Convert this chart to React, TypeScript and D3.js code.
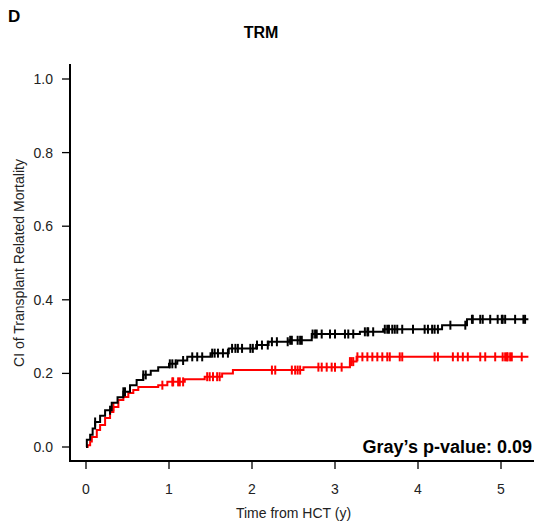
import React from "react";
import * as d3 from "d3";

// step points of the cumulative incidence curves (time in years, CI value)
const blackTimes = [0, 0.01, 0.05, 0.08, 0.11, 0.17, 0.23, 0.31, 0.38, 0.45, 0.53, 0.61, 0.69, 0.78, 0.87, 1.0, 1.1, 1.22, 1.5, 1.72, 2.05, 2.2, 2.45, 2.72, 3.3, 3.58, 4.29, 4.59];
const blackValues = [0, 0.02, 0.033, 0.05, 0.068, 0.085, 0.1, 0.12, 0.135, 0.15, 0.168, 0.182, 0.196, 0.207, 0.217, 0.226, 0.235, 0.245, 0.255, 0.268, 0.277, 0.286, 0.29, 0.307, 0.313, 0.32, 0.331, 0.347];
const blackCensor = [0.11, 0.29, 0.45, 0.47, 0.69, 0.72, 1.01, 1.04, 1.08, 1.17, 1.28, 1.34, 1.4, 1.52, 1.55, 1.59, 1.65, 1.71, 1.76, 1.8, 1.83, 1.88, 1.98, 2.01, 2.06, 2.12, 2.19, 2.24, 2.3, 2.43, 2.46, 2.48, 2.55, 2.58, 2.6, 2.73, 2.76, 2.78, 2.84, 2.94, 3.0, 3.12, 3.16, 3.22, 3.36, 3.39, 3.4, 3.46, 3.6, 3.63, 3.65, 3.69, 3.72, 3.75, 3.81, 3.94, 4.08, 4.12, 4.17, 4.2, 4.24, 4.39, 4.57, 4.65, 4.66, 4.75, 4.78, 4.87, 4.96, 5.01, 5.02, 5.05, 5.17, 5.27, 5.29];

const redTimes = [0, 0.02, 0.05, 0.07, 0.13, 0.17, 0.23, 0.29, 0.33, 0.39, 0.45, 0.51, 0.57, 0.63, 0.87, 0.98, 1.19, 1.43, 1.64, 1.77, 2.62, 3.18, 3.26];
const redValues = [0, 0.005, 0.015, 0.027, 0.046, 0.06, 0.079, 0.095, 0.109, 0.128, 0.136, 0.147, 0.155, 0.163, 0.168, 0.177, 0.184, 0.191, 0.2, 0.209, 0.217, 0.232, 0.245];
const redCensor = [0.33, 0.92, 1.04, 1.05, 1.11, 1.13, 1.17, 1.46, 1.49, 1.53, 1.58, 1.61, 2.24, 2.28, 2.48, 2.52, 2.55, 2.58, 2.8, 2.84, 2.9, 2.96, 3.0, 3.08, 3.18, 3.2, 3.22, 3.27, 3.33, 3.39, 3.45, 3.51, 3.57, 3.63, 3.66, 3.78, 3.81, 4.2, 4.24, 4.42, 4.48, 4.54, 4.6, 4.75, 4.81, 4.93, 5.02, 5.05, 5.07, 5.08, 5.11, 5.13, 5.25];

const endTime = 5.33;
const xTicks = [0, 1, 2, 3, 4, 5];
const yTicks = [0, 0.2, 0.4, 0.6, 0.8, 1.0];

const font = "'Liberation Sans', Arial, sans-serif";

function Curve({ times, values, censor, color, x, y }: any) {
  const pts: [number, number][] = times.map((t: number, i: number) => [t, values[i]]);
  pts.push([endTime, values[values.length - 1]]);
  const line = d3
    .line<[number, number]>()
    .x((d) => x(d[0]))
    .y((d) => y(d[1]))
    .curve(d3.curveStepAfter);
  const valueAt = (t: number) => {
    const i = d3.bisectRight(times, t) - 1;
    return values[Math.max(0, i)];
  };
  return (
    <g>
      <path d={line(pts) || ""} fill="none" stroke={color} strokeWidth={2} />
      {censor.map((t: number, i: number) => (
        <line
          key={i}
          x1={x(t)}
          x2={x(t)}
          y1={y(valueAt(t)) - 4.5}
          y2={y(valueAt(t)) + 4.5}
          stroke={color}
          strokeWidth={2}
        />
      ))}
    </g>
  );
}

export default function App() {
  const x = d3.scaleLinear().domain([0, 5]).range([86, 501]);
  const y = d3.scaleLinear().domain([0, 1]).range([447, 79]);
  const left = 70;
  const bottom = 461;
  const top = 64;

  return (
    <svg
      width={534}
      height={523}
      style={{ position: "absolute", left: 0, top: 0, background: "#fff" }}
      fontFamily={font}
    >
      <text x={8} y={22} fontSize={17} fontWeight="bold">D</text>
      <text x={261} y={38} fontSize={16} fontWeight="bold" textAnchor="middle">TRM</text>

      {/* L-shaped frame */}
      <path d={`M${left},${top}V${bottom}H534`} fill="none" stroke="#000" strokeWidth={2} />

      {yTicks.map((v) => (
        <g key={v}>
          <line x1={left - 8} x2={left} y1={y(v)} y2={y(v)} stroke="#000" strokeWidth={1.3} />
          <text x={53} y={y(v) + 5} fontSize={14} textAnchor="end" fill="#222">
            {d3.format(".1f")(v)}
          </text>
        </g>
      ))}
      {xTicks.map((t) => (
        <g key={t}>
          <line x1={x(t)} x2={x(t)} y1={bottom} y2={bottom + 8} stroke="#000" strokeWidth={1.3} />
          <text x={x(t)} y={494} fontSize={14} textAnchor="middle" fill="#222">
            {t}
          </text>
        </g>
      ))}

      <text x={x(2.5)} y={518} fontSize={14} textAnchor="middle" fill="#222">Time from HCT (y)</text>
      <text
        transform="translate(24,263) rotate(-90)"
        fontSize={14}
        textAnchor="middle"
        fill="#222"
      >
        CI of Transplant Related Mortality
      </text>

      <Curve times={redTimes} values={redValues} censor={redCensor} color="#ff0000" x={x} y={y} />
      <Curve times={blackTimes} values={blackValues} censor={blackCensor} color="#000" x={x} y={y} />

      <text x={532} y={453} fontSize={18} fontWeight="bold" textAnchor="end">
        Gray’s p-value: 0.09
      </text>
    </svg>
  );
}
